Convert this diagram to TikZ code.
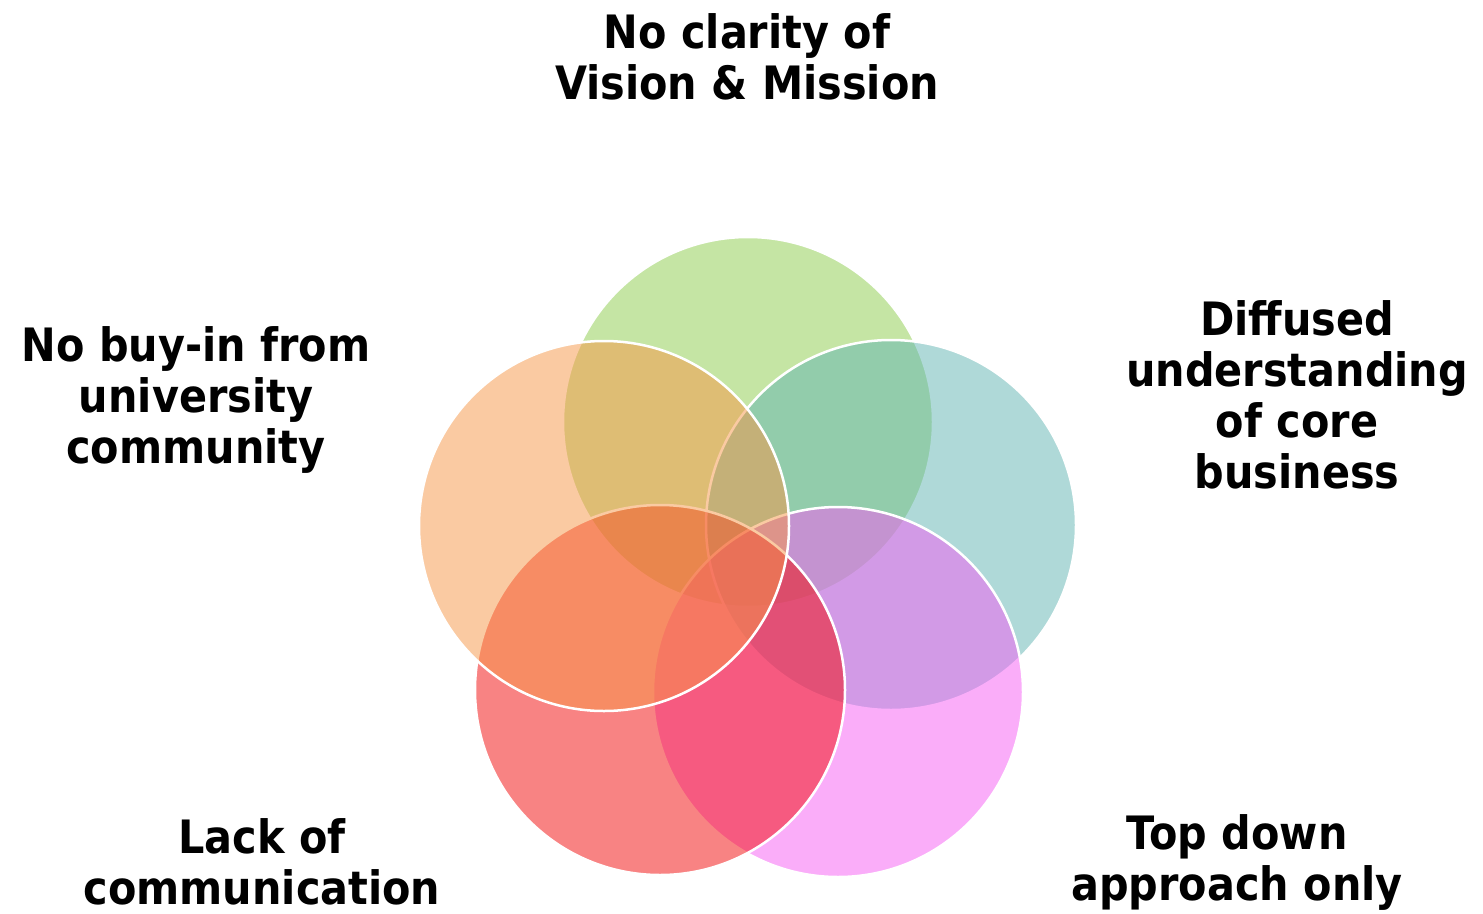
\documentclass[tikz,border=0pt]{standalone}
\usepackage{fontspec}
\setmainfont{DejaVu Sans}[FakeStretch=0.9]
\definecolor{visgreen}{RGB}{140,204,74}
\definecolor{coreteal}{RGB}{97,181,179}
\definecolor{toppink}{RGB}{246,92,245}
\definecolor{commred}{RGB}{243,8,8}
\definecolor{buyorange}{RGB}{247,150,70}
\begin{document}
\begin{tikzpicture}[x=1pt,y=-1pt,
  ring/.style={circle, minimum size=370pt, inner sep=0pt, draw=white, line width=2.5pt, fill opacity=0.5},
  lab/.style={align=center, inner sep=0pt, font=\fontsize{46}{51}\selectfont\bfseries}]
  \fill[white] (0,0) rectangle (1483,913);
  \useasboundingbox (0,0) rectangle (1483,913);
  \node[ring, fill=visgreen]  (V) at (748,422) {};
  \node[ring, fill=coreteal]  (C) at (891,525) {};
  \node[ring, fill=toppink]   (T) at (838,692) {};
  \node[ring, fill=commred]   (L) at (660,690) {};
  \node[ring, fill=buyorange] (B) at (604,526) {};
  \node[lab] (V/l) at (747,57)  {No clarity of\\Vision \& Mission};
  \node[lab] (B/l) at (196,400) {No buy-in from\\university\\community};
  \node[lab] (C/l) at (1297,395) {Diffused\\understanding\\of core\\business};
  \node[lab] (L/l) at (262,862) {Lack of\\communication};
  \node[lab] (T/l) at (1237,862) {Top down\\approach only};
\end{tikzpicture}
\end{document}
